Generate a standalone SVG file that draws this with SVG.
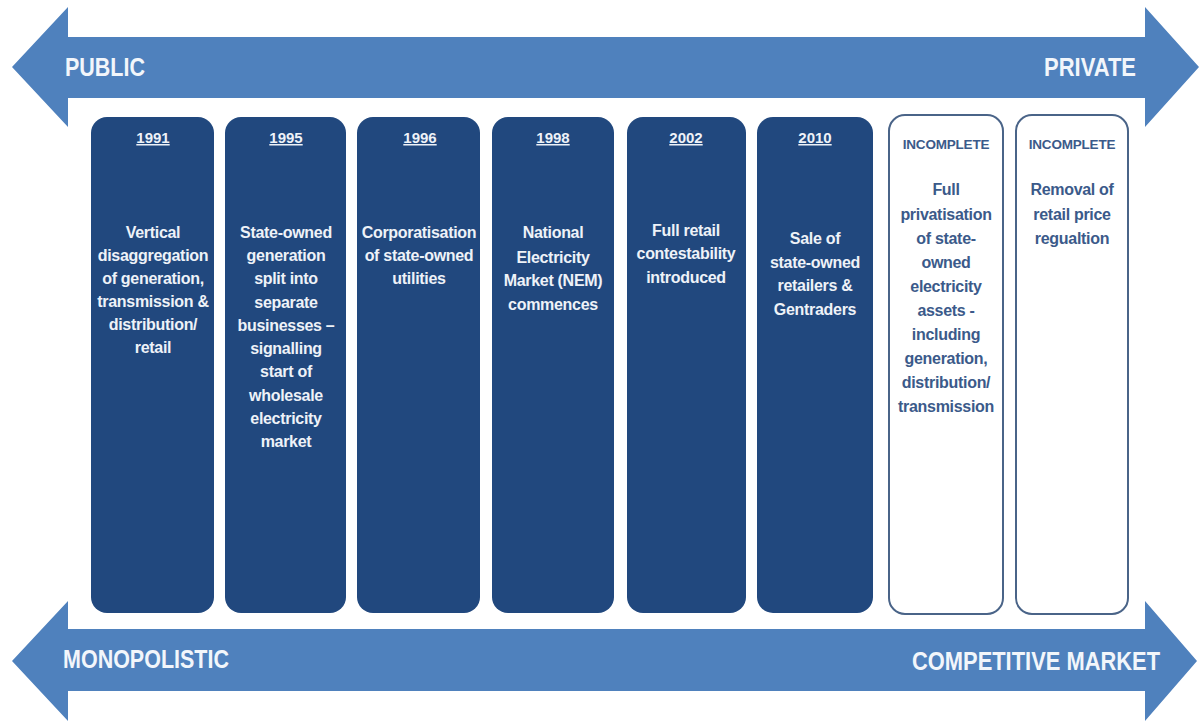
<svg xmlns="http://www.w3.org/2000/svg" width="1200" height="722" viewBox="0 0 1200 722">
<style>
.arrow{fill:#4f81bd}
.alabel{font-family:"Liberation Sans",Arial,sans-serif;font-weight:bold;font-size:25px;fill:#f2f6fb}
.dark{fill:#21487e}
.light{fill:#ffffff;stroke:#4a6488;stroke-width:2}
.yr{font-family:"Liberation Sans",Arial,sans-serif;font-weight:bold;font-size:15px;fill:#eef2f8;text-anchor:middle;text-decoration:underline}
.body{font-family:"Liberation Sans",Arial,sans-serif;font-weight:bold;font-size:16px;letter-spacing:-0.3px;fill:#eef2f8;text-anchor:middle}
.inc{font-family:"Liberation Sans",Arial,sans-serif;font-weight:bold;font-size:13.5px;letter-spacing:-0.2px;fill:#3b5a8a;text-anchor:middle}
.lbody{font-family:"Liberation Sans",Arial,sans-serif;font-weight:bold;font-size:16px;letter-spacing:-0.3px;fill:#3b5a8a;text-anchor:middle}
</style>
<rect width="1200" height="722" fill="#ffffff"/>
<g id="arrows">
<g id="arrow-top">
<polygon class="arrow" points="12,67 68,7 68,37 1145,37 1145,7 1199,67 1145,127 1145,98 68,98 68,127"/>
<text class="alabel" x="65" y="76" textLength="80" lengthAdjust="spacingAndGlyphs">PUBLIC</text>
<text class="alabel" x="1044" y="76" textLength="92" lengthAdjust="spacingAndGlyphs">PRIVATE</text>
</g>
<g id="arrow-bottom">
<polygon class="arrow" points="12,661 68,601 68,629 1145,629 1145,601 1197,661 1145,721 1145,691 68,691 68,721"/>
<text class="alabel" x="63" y="668" textLength="166" lengthAdjust="spacingAndGlyphs">MONOPOLISTIC</text>
<text class="alabel" x="912" y="670" textLength="248" lengthAdjust="spacingAndGlyphs">COMPETITIVE MARKET</text>
</g>
</g>
<g id="node-1991">
<rect class="dark" x="91" y="117" width="123" height="496" rx="16"/>
<text class="yr" x="153" y="143">1991</text>
<text class="body"><tspan x="153" y="238">Vertical</tspan><tspan x="153" y="261">disaggregation</tspan><tspan x="153" y="284">of generation,</tspan><tspan x="153" y="307">transmission &amp;</tspan><tspan x="153" y="330">distribution/</tspan><tspan x="153" y="353">retail</tspan></text>
</g>
<g id="node-1995">
<rect class="dark" x="225" y="117" width="121" height="496" rx="16"/>
<text class="yr" x="286" y="143">1995</text>
<text class="body"><tspan x="286" y="238">State-owned</tspan><tspan x="286" y="261">generation</tspan><tspan x="286" y="284">split into</tspan><tspan x="286" y="308">separate</tspan><tspan x="286" y="331">businesses –</tspan><tspan x="286" y="354">signalling</tspan><tspan x="286" y="377">start of</tspan><tspan x="286" y="401">wholesale</tspan><tspan x="286" y="424">electricity</tspan><tspan x="286" y="447">market</tspan></text>
</g>
<g id="node-1996">
<rect class="dark" x="357" y="117" width="123" height="496" rx="16"/>
<text class="yr" x="420" y="143">1996</text>
<text class="body"><tspan x="419" y="238">Corporatisation</tspan><tspan x="419" y="261">of state-owned</tspan><tspan x="419" y="284">utilities</tspan></text>
</g>
<g id="node-1998">
<rect class="dark" x="492" y="117" width="122" height="496" rx="16"/>
<text class="yr" x="553" y="143">1998</text>
<text class="body"><tspan x="553" y="238">National</tspan><tspan x="553" y="263">Electricity</tspan><tspan x="553" y="286">Market (NEM)</tspan><tspan x="553" y="310">commences</tspan></text>
</g>
<g id="node-2002">
<rect class="dark" x="627" y="117" width="119" height="496" rx="16"/>
<text class="yr" x="686" y="143">2002</text>
<text class="body"><tspan x="686" y="236">Full retail</tspan><tspan x="686" y="259">contestability</tspan><tspan x="686" y="283">introduced</tspan></text>
</g>
<g id="node-2010">
<rect class="dark" x="757" y="117" width="116" height="496" rx="16"/>
<text class="yr" x="815" y="143">2010</text>
<text class="body"><tspan x="815" y="244">Sale of</tspan><tspan x="815" y="268">state-owned</tspan><tspan x="815" y="291">retailers &amp;</tspan><tspan x="815" y="315">Gentraders</tspan></text>
</g>
<g id="node-incomplete-1">
<rect class="light" x="889" y="115" width="114" height="499" rx="16"/>
<text class="inc" x="946" y="149">INCOMPLETE</text>
<text class="lbody"><tspan x="946" y="195">Full</tspan><tspan x="946" y="220">privatisation</tspan><tspan x="946" y="244">of state-</tspan><tspan x="946" y="268">owned</tspan><tspan x="946" y="292">electricity</tspan><tspan x="946" y="316">assets -</tspan><tspan x="946" y="340">including</tspan><tspan x="946" y="364">generation,</tspan><tspan x="946" y="388">distribution/</tspan><tspan x="946" y="412">transmission</tspan></text>
</g>
<g id="node-incomplete-2">
<rect class="light" x="1016" y="115" width="112" height="499" rx="16"/>
<text class="inc" x="1072" y="149">INCOMPLETE</text>
<text class="lbody"><tspan x="1072" y="195">Removal of</tspan><tspan x="1072" y="220">retail price</tspan><tspan x="1072" y="244">regualtion</tspan></text>
</g>
</svg>
